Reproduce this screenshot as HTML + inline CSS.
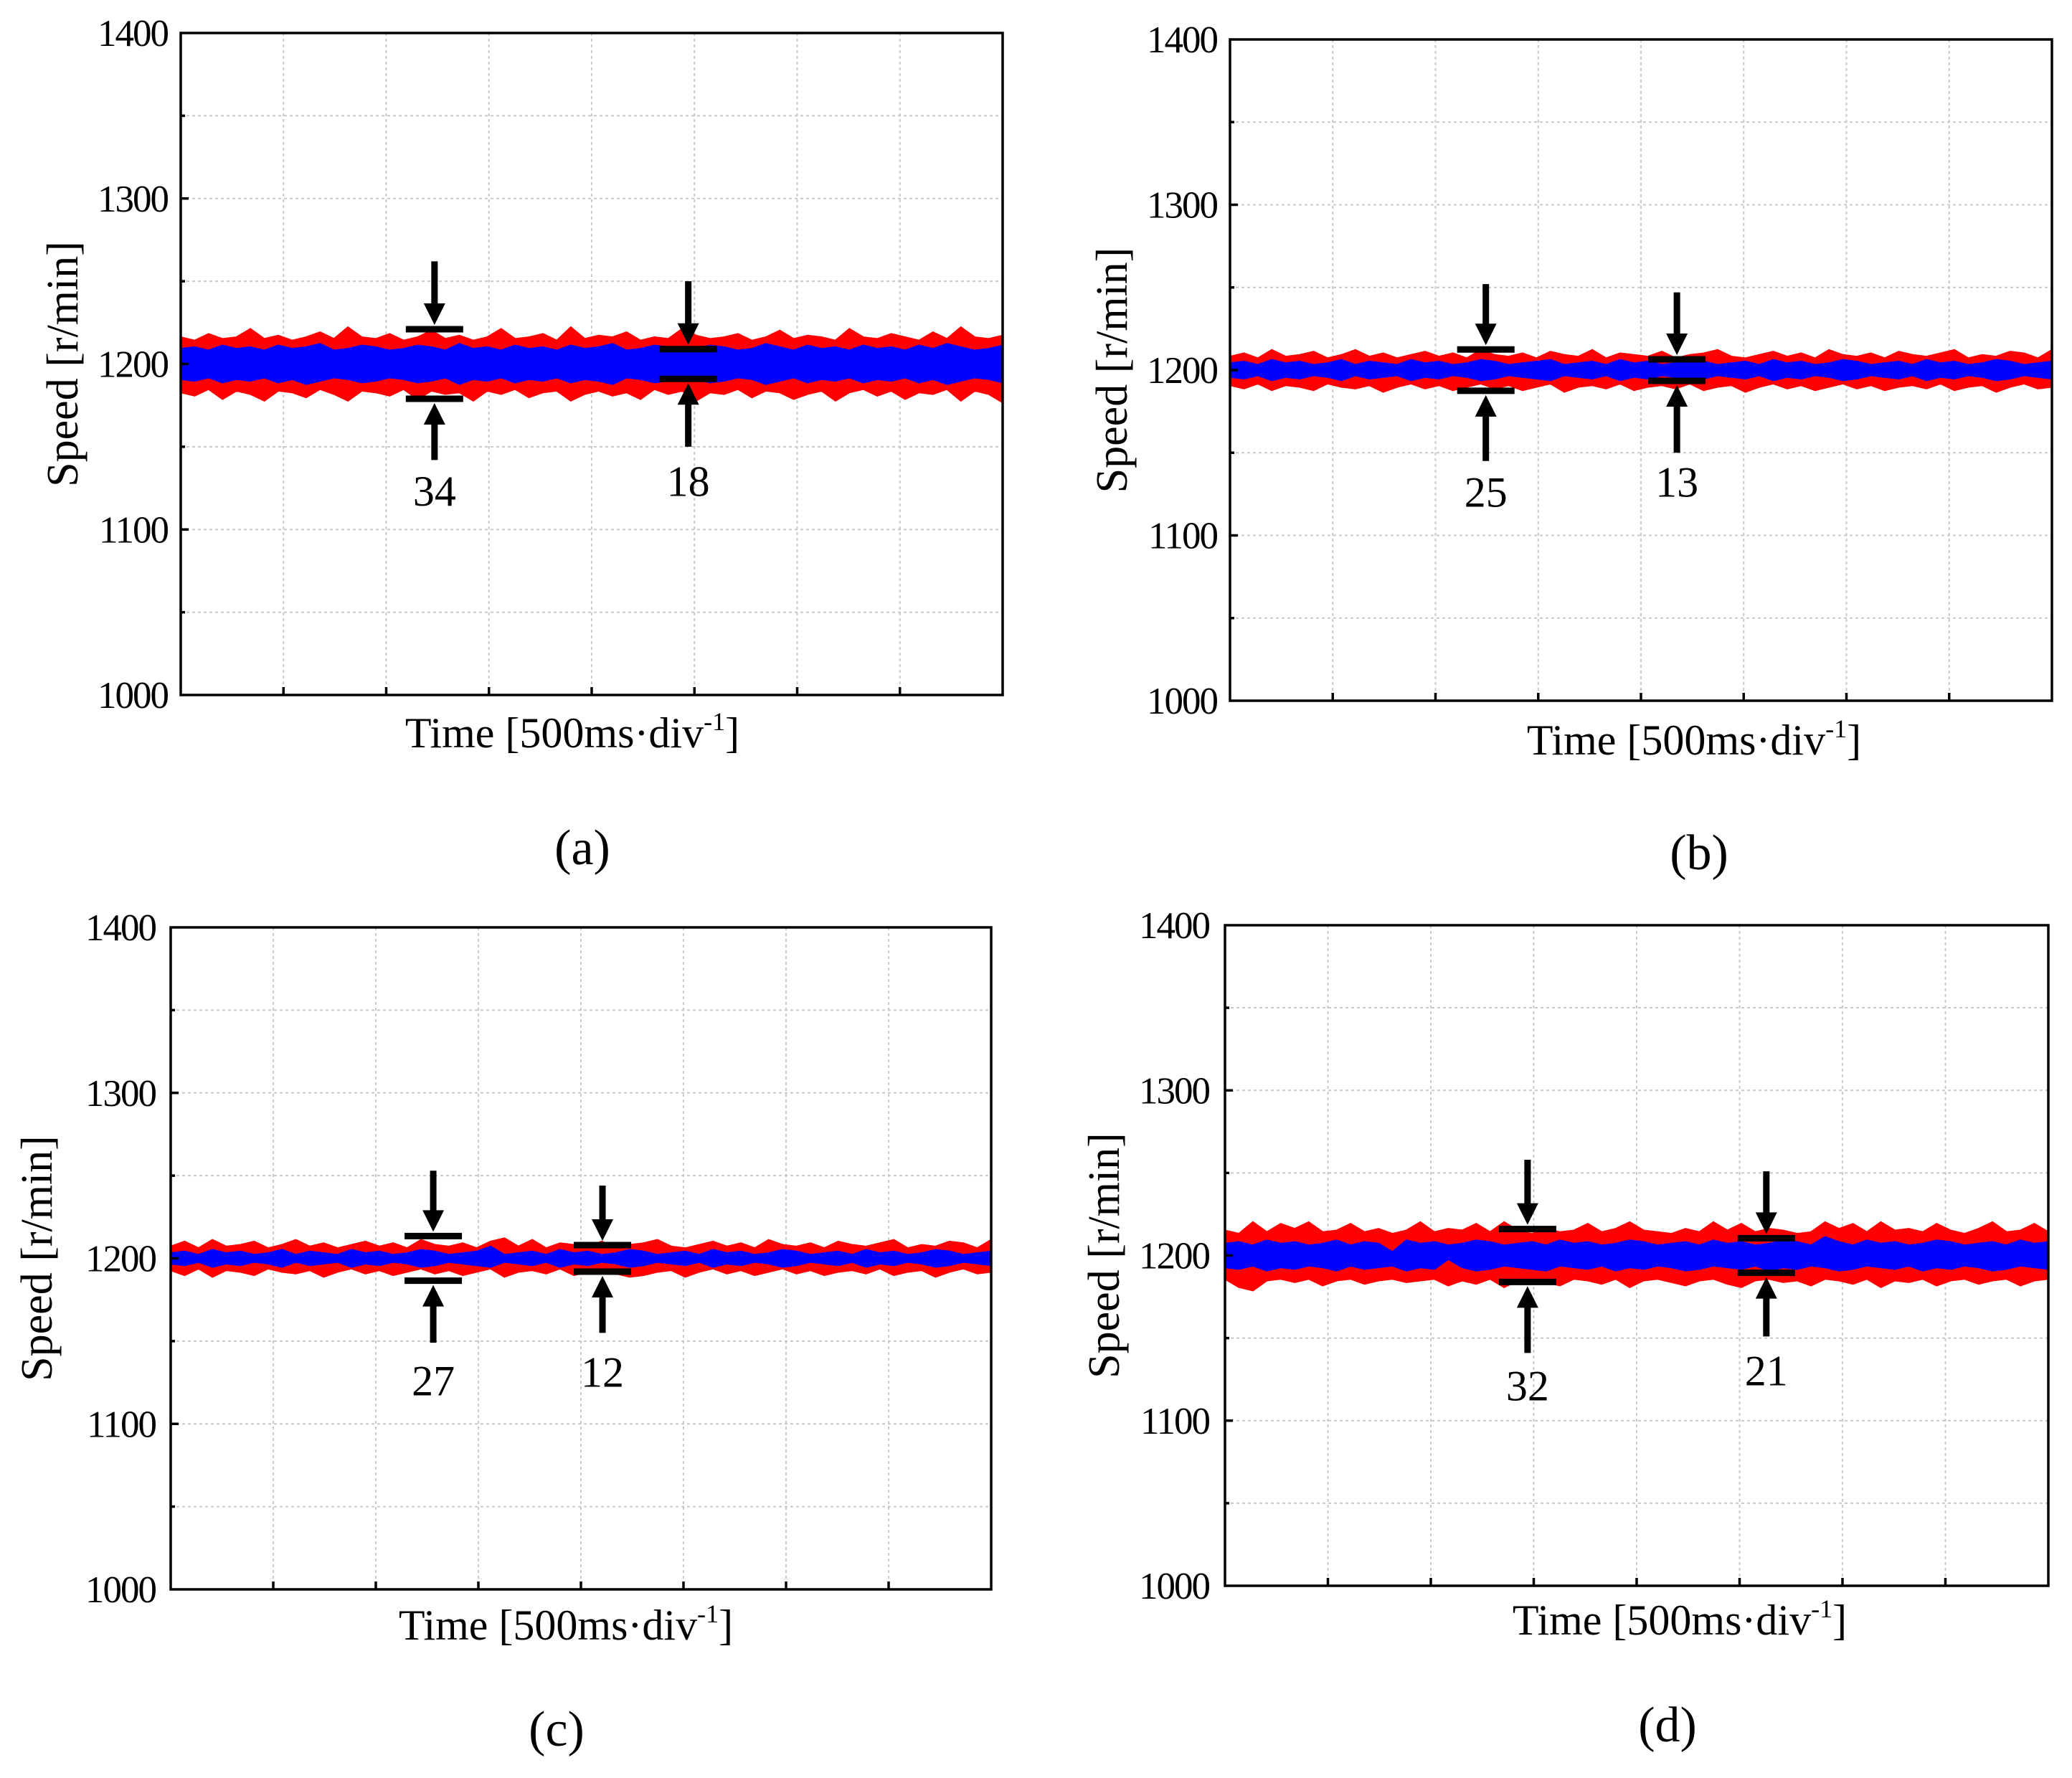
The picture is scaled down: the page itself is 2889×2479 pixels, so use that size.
<!DOCTYPE html>
<html><head><meta charset="utf-8"><style>
html,body{margin:0;padding:0;background:#fff;}
svg{display:block;}
text{font-family:"Liberation Serif",serif;fill:#000;}
</style></head><body>
<svg id="fig" width="2889" height="2479" viewBox="0 0 2889 2479" xmlns="http://www.w3.org/2000/svg"></svg>
<script>
const yTicks=[1000,1100,1200,1300,1400];
const panelLabels=["(a)","(b)","(c)","(d)"];
const redUpA=[1216,1214,1218,1215,1216,1221,1215,1217,1214,1216,1219,1215,1222,1216,1215,1218,1214,1216,1220,1215,1217,1214,1216,1221,1215,1216,1218,1214,1222,1215,1217,1216,1219,1214,1216,1215,1221,1217,1215,1216,1218,1214,1216,1220,1215,1217,1216,1214,1221,1216,1215,1218,1216,1214,1219,1215,1222,1216,1215,1217];
const redLoA=[1183,1181,1185,1179,1184,1182,1178,1184,1183,1180,1185,1182,1178,1184,1183,1181,1185,1179,1184,1182,1183,1178,1184,1182,1185,1180,1183,1184,1178,1182,1184,1181,1183,1179,1185,1182,1184,1178,1183,1182,1185,1180,1184,1183,1179,1182,1184,1178,1183,1185,1181,1184,1179,1183,1182,1185,1178,1184,1182,1177];
const blueUpA=[1209,1210,1208,1211,1209,1210,1208,1211,1209,1210,1212,1208,1209,1211,1210,1208,1209,1211,1210,1208,1212,1209,1210,1208,1211,1209,1210,1208,1211,1209,1210,1212,1208,1209,1211,1210,1208,1209,1211,1210,1208,1209,1212,1210,1208,1211,1209,1210,1208,1211,1209,1210,1208,1211,1209,1212,1210,1208,1209,1211];
const blueLoA=[1191,1190,1192,1189,1191,1190,1192,1189,1191,1188,1190,1192,1191,1189,1190,1192,1191,1189,1190,1192,1188,1191,1190,1192,1189,1191,1190,1192,1189,1191,1190,1188,1192,1191,1189,1190,1192,1191,1189,1190,1192,1191,1188,1190,1192,1189,1191,1190,1192,1189,1191,1190,1192,1189,1191,1188,1190,1192,1191,1189];
const redUpB=[1208,1210,1207,1212,1208,1209,1211,1207,1209,1212,1208,1210,1207,1209,1211,1208,1210,1207,1212,1209,1208,1210,1207,1211,1209,1208,1212,1207,1210,1209,1208,1211,1207,1209,1210,1212,1208,1207,1209,1211,1208,1210,1207,1212,1209,1208,1210,1207,1211,1209,1208,1210,1212,1207,1209,1208,1211,1210,1207,1212];
const redLoB=[1191,1189,1192,1188,1191,1190,1188,1192,1190,1189,1191,1187,1190,1192,1189,1191,1188,1190,1192,1189,1191,1188,1190,1192,1187,1190,1191,1189,1192,1188,1190,1191,1189,1192,1188,1190,1191,1187,1190,1192,1189,1191,1188,1190,1192,1189,1191,1188,1190,1191,1189,1192,1188,1190,1191,1187,1190,1192,1189,1190];
const blueUpB=[1204,1205,1203,1206,1204,1205,1203,1204,1206,1203,1205,1204,1203,1206,1204,1205,1203,1204,1206,1205,1203,1204,1205,1206,1203,1204,1205,1203,1206,1204,1205,1203,1204,1206,1205,1203,1204,1205,1203,1206,1204,1205,1203,1204,1206,1205,1203,1204,1205,1203,1206,1204,1205,1203,1204,1206,1205,1203,1204,1205];
const blueLoB=[1196,1195,1197,1194,1196,1195,1197,1196,1194,1197,1195,1196,1197,1194,1196,1195,1197,1196,1194,1195,1197,1196,1195,1194,1197,1196,1195,1197,1194,1196,1195,1197,1196,1194,1195,1197,1196,1195,1197,1194,1196,1195,1197,1196,1194,1195,1197,1196,1195,1197,1194,1196,1195,1197,1196,1194,1195,1197,1196,1195];
const redUpC=[1207,1210,1206,1211,1207,1208,1210,1206,1208,1211,1207,1209,1206,1208,1210,1207,1209,1206,1211,1208,1207,1209,1206,1210,1212,1207,1211,1206,1209,1208,1207,1210,1206,1208,1209,1211,1207,1206,1208,1210,1207,1209,1206,1211,1208,1207,1209,1206,1210,1208,1207,1209,1211,1206,1208,1207,1210,1209,1206,1211];
const redLoC=[1193,1190,1194,1189,1193,1192,1190,1194,1192,1191,1193,1189,1192,1194,1191,1193,1190,1192,1194,1191,1193,1190,1192,1194,1189,1192,1193,1191,1194,1190,1192,1193,1191,1189,1190,1192,1193,1189,1192,1194,1191,1193,1190,1192,1194,1191,1193,1190,1192,1193,1191,1194,1190,1192,1193,1189,1192,1194,1191,1192];
const blueUpC=[1203,1204,1202,1205,1203,1204,1202,1203,1205,1202,1204,1203,1202,1205,1203,1204,1202,1203,1205,1204,1202,1203,1204,1207,1202,1203,1204,1202,1205,1203,1204,1202,1203,1205,1204,1202,1203,1204,1202,1205,1203,1204,1202,1203,1205,1204,1202,1203,1204,1202,1205,1203,1204,1202,1203,1205,1204,1202,1203,1204];
const blueLoC=[1197,1196,1198,1195,1197,1196,1198,1197,1195,1198,1196,1197,1198,1195,1197,1196,1198,1197,1195,1196,1198,1197,1196,1195,1198,1197,1196,1198,1195,1197,1196,1198,1197,1195,1196,1198,1197,1196,1198,1195,1197,1196,1198,1197,1195,1196,1198,1197,1196,1198,1195,1197,1196,1198,1197,1195,1196,1198,1197,1196];
const redUpD=[1215,1213,1220,1214,1219,1216,1220,1214,1215,1219,1214,1216,1213,1215,1220,1214,1216,1215,1219,1214,1220,1215,1213,1216,1214,1215,1219,1214,1216,1220,1215,1214,1213,1216,1214,1220,1215,1219,1214,1216,1215,1213,1214,1220,1216,1219,1214,1220,1215,1216,1214,1219,1215,1213,1216,1220,1214,1215,1219,1214];
const redLoD=[1186,1181,1179,1185,1186,1184,1186,1182,1185,1186,1183,1185,1186,1184,1185,1186,1182,1185,1183,1186,1181,1185,1186,1184,1182,1186,1185,1183,1186,1181,1185,1186,1184,1182,1185,1186,1183,1181,1185,1186,1184,1185,1182,1186,1185,1183,1186,1181,1185,1184,1186,1182,1185,1186,1183,1185,1186,1182,1185,1186];
const blueUpD=[1207,1208,1206,1209,1207,1208,1206,1207,1209,1206,1208,1207,1202,1209,1207,1208,1206,1207,1209,1208,1206,1207,1208,1206,1209,1207,1208,1206,1207,1209,1208,1206,1207,1208,1206,1209,1207,1208,1206,1207,1209,1208,1206,1211,1208,1206,1209,1207,1208,1206,1207,1209,1208,1206,1207,1208,1206,1209,1207,1208];
const blueLoD=[1193,1192,1194,1191,1193,1192,1194,1193,1191,1194,1192,1193,1194,1191,1193,1192,1198,1193,1191,1192,1194,1193,1192,1191,1194,1193,1192,1194,1191,1193,1192,1194,1193,1191,1192,1194,1193,1192,1194,1191,1193,1192,1194,1193,1191,1192,1194,1193,1192,1194,1191,1193,1192,1194,1193,1191,1192,1194,1193,1192];
const annoX=[[2.47,4.94],[2.49,4.35],[2.56,4.21],[2.94,5.26]];
const annoTop=[[1221,1209],[1212.5,1206.5],[1213.5,1208],[1216,1210.5]];
const annoBot=[[1179,1191],[1187.5,1193.5],[1186.5,1192],[1184,1189.5]];
const annoArrTop=[[1262,1250],[1252,1247],[1253,1244],[1258,1251]];
const annoArrBot=[[1142,1150],[1145,1150],[1149,1155],[1141,1151]];
const annoText=[["34","18"],["25","13"],["27","12"],["32","21"]];
const annoTextY=[[1123,1129],[1126,1132],[1126,1131],[1121,1130]];

const red=[[redUpA,redLoA],[redUpB,redLoB],[redUpC,redLoC],[redUpD,redLoD]];
const blue=[[blueUpA,blueLoA],[blueUpB,blueLoB],[blueUpC,blueLoC],[blueUpD,blueLoD]];
const boxes=[{x0:252,x1:1398,y0:46,y1:969,tx:234,yt:88,xt:[798,1022],pl:[812,1181]},
{x0:1715,x1:2861,y0:55,y1:977,tx:1697,yt:1551,xt:[2362,1032],pl:[2369,1188]},
{x0:238,x1:1382,y0:1293,y1:2216,tx:217,yt:52,xt:[789,2266],pl:[776,2410]},
{x0:1708,x1:2856,y0:1290,y1:2211,tx:1686,yt:1540,xt:[2342,2259],pl:[2325,2404]}];
const NS="http://www.w3.org/2000/svg";
const svg=document.getElementById('fig');
function mk(tag,attrs,parent){const e=document.createElementNS(NS,tag);for(const k in attrs)e.setAttribute(k,attrs[k]);(parent||svg).appendChild(e);return e;}
boxes.forEach((b,p)=>{
  const g=mk('g',{});
  
  
  const xs=d=>b.x0+(b.x1-b.x0)*d/8;
  const ys=v=>b.y1-(b.y1-b.y0)*(v-1000)/400;
  for(let i=1;i<8;i++){const l=mk('line',{x1:xs(i),x2:xs(i),y1:b.y0,y2:b.y1,stroke:'#c8c8c8','stroke-width':2,'stroke-dasharray':'4,4'},g);
    
    }
  for(let v=1050;v<1400;v+=50){const l=mk('line',{x1:b.x0,x2:b.x1,y1:ys(v),y2:ys(v),stroke:'#c8c8c8','stroke-width':2,'stroke-dasharray':'4,4'},g);
    
    }
  [[red[p],'#ff0000','red-series'],[blue[p],'#0000ff','blue-series']].forEach(([s,c,n])=>{
    const up=s[0],lo=s[1],N=up.length;let pts=[];
    up.forEach((v,i)=>{pts.push(xs(8*i/(N-1))+','+ys(v));});
    for(let i=N-1;i>=0;i--)pts.push(xs(8*i/(N-1))+','+ys(lo[i]));
    const pg=mk('polygon',{points:pts.join(' '),fill:c,stroke:c,'stroke-width':3,'stroke-linejoin':'miter'},g);
    
    
  });
  const fr=mk('rect',{x:b.x0,y:b.y0,width:b.x1-b.x0,height:b.y1-b.y0,fill:'none',stroke:'#000','stroke-width':3.5},g);
  
  
  for(let i=1;i<8;i++){const t=mk('line',{x1:xs(i),x2:xs(i),y1:b.y1,y2:b.y1-11,stroke:'#000','stroke-width':3.5},g);
    
    }
  for(let v=1050;v<1400;v+=50){const t=mk('line',{x1:b.x0,x2:b.x0+(v%100?6:11),y1:ys(v),y2:ys(v),stroke:'#000','stroke-width':3.5},g);
    
    }
  yTicks.forEach(v=>{const t=mk('text',{x:b.tx,y:ys(v)+18,'text-anchor':'end','font-size':53,'letter-spacing':-2},g);t.textContent=v;
    
    });
  const yt=mk('text',{x:0,y:0,'text-anchor':'middle','font-size':62,transform:`translate(${b.yt+20},${(b.y0+b.y1)/2}) rotate(-90)`},g);
  yt.textContent='Speed [r/min]';
  
  
  const xt=mk('text',{x:b.xt[0],y:b.xt[1]+20,'text-anchor':'middle','font-size':60},g);
  xt.innerHTML='Time [500ms·div<tspan dy="-24" font-size="36">-1</tspan><tspan dy="24">]</tspan>';
  
  
  const pl=mk('text',{x:b.pl[0],y:b.pl[1]+24,'text-anchor':'middle','font-size':70},g);
  pl.textContent=panelLabels[p];
  
  
  annoX[p].forEach((ax,k)=>{
    const x=xs(ax),yT=ys(annoTop[p][k]),yB=ys(annoBot[p][k]);
    const a=mk('g',{},g);
    
    
    mk('line',{x1:x-40,x2:x+40,y1:yT,y2:yT,stroke:'#000','stroke-width':9},a);
    mk('line',{x1:x-40,x2:x+40,y1:yB,y2:yB,stroke:'#000','stroke-width':9},a);
    mk('line',{x1:x,x2:x,y1:ys(annoArrTop[p][k]),y2:yT-25,stroke:'#000','stroke-width':9},a);
    mk('polygon',{points:`${x-15},${yT-36} ${x+15},${yT-36} ${x},${yT-6}`,fill:'#000'},a);
    mk('line',{x1:x,x2:x,y1:ys(annoArrBot[p][k]),y2:yB+25,stroke:'#000','stroke-width':9},a);
    mk('polygon',{points:`${x-15},${yB+36} ${x+15},${yB+36} ${x},${yB+6}`,fill:'#000'},a);
    const t=mk('text',{x:x,y:ys(annoTextY[p][k])+20,'text-anchor':'middle','font-size':60},a);
    t.textContent=annoText[p][k];
    
    
  });
});
</script>
</body></html>
